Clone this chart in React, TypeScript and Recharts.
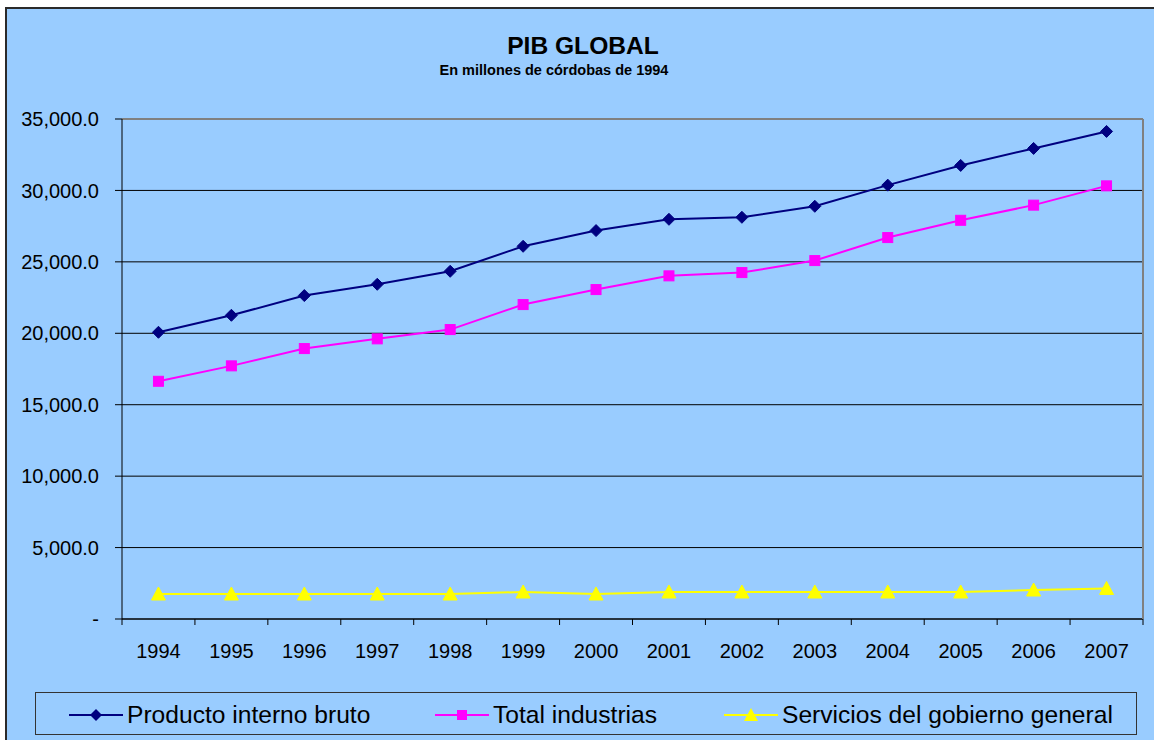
import React from 'react';
import { LineChart, Line, XAxis, YAxis, CartesianGrid, ReferenceLine } from 'recharts';

const years = ['1994', '1995', '1996', '1997', '1998', '1999', '2000', '2001', '2002', '2003', '2004', '2005', '2006', '2007'];
const pib = [20070, 21260, 22640, 23430, 24340, 26090, 27190, 27980, 28120, 28890, 30370, 31750, 32940, 34130];
const industrias = [16640, 17720, 18930, 19610, 20260, 22010, 23060, 24020, 24250, 25090, 26700, 27910, 28970, 30320];
const gobierno = [1750, 1750, 1750, 1750, 1750, 1890, 1750, 1890, 1890, 1890, 1890, 1890, 2030, 2140];
const yTicks = [0, 5000, 10000, 15000, 20000, 25000, 30000, 35000];

const seriesNames = ['Producto interno bruto', 'Total industrias', 'Servicios del gobierno general'];
const title = 'PIB GLOBAL';
const subtitle = 'En millones de córdobas de 1994';

const data = years.map((y, i) => ({ year: y, pib: pib[i], ind: industrias[i], gob: gobierno[i] }));

const FONT = '"Liberation Sans", Arial, sans-serif';
const NAVY = '#000080';
const MAGENTA = '#FF00FF';
const YELLOW = '#FFFF00';

const Diamond = (props: any) => {
  const { cx, cy } = props;
  if (cx == null || cy == null) return null;
  const r = 6;
  return <polygon points={`${cx},${cy - r} ${cx + r},${cy} ${cx},${cy + r} ${cx - r},${cy}`} fill={NAVY} stroke={NAVY} strokeWidth={1} />;
};
const Square = (props: any) => {
  const { cx, cy } = props;
  if (cx == null || cy == null) return null;
  return <rect x={cx - 5} y={cy - 5} width={10} height={10} fill={MAGENTA} stroke={MAGENTA} strokeWidth={1} />;
};
const Triangle = (props: any) => {
  const { cx, cy } = props;
  if (cx == null || cy == null) return null;
  return <polygon points={`${cx},${cy - 7} ${cx + 7},${cy + 6} ${cx - 7},${cy + 6}`} fill={YELLOW} stroke={YELLOW} strokeWidth={1} />;
};

const XTick = (props: any) => {
  const { x, y, payload, index } = props;
  const off = payload && payload.offset ? payload.offset : 36.46;
  const last = index === years.length - 1;
  return (
    <g>
      <line x1={x - off} x2={x - off} y1={y - 6} y2={y} stroke="#000" strokeWidth={1} />
      {last && <line x1={x + off} x2={x + off} y1={y - 6} y2={y} stroke="#000" strokeWidth={1} />}
      <text x={x} y={y + 33} textAnchor="middle" fontFamily={FONT} fontSize={20} fill="#000">
        {payload.value}
      </text>
    </g>
  );
};

const fmtY = (v: number) =>
  v === 0 ? '-' : v.toLocaleString('en-US', { minimumFractionDigits: 1, maximumFractionDigits: 1 });

const LegendItem = ({ left, name, marker, color }: { left: number; name: string; marker: string; color: string }) => (
  <div style={{ position: 'absolute', left, top: 0, height: 43, display: 'flex', alignItems: 'center' }}>
    <svg width={56} height={20} style={{ display: 'block' }}>
      <line x1={0} x2={54} y1={10} y2={10} stroke={color} strokeWidth={2} />
      {marker === 'diamond' && <polygon points="27,4 33,10 27,16 21,10" fill={color} />}
      {marker === 'square' && <rect x={22} y={5} width={10} height={10} fill={color} />}
      {marker === 'triangle' && <polygon points="27,3 34,16 20,16" fill={color} />}
    </svg>
    <span style={{ fontFamily: FONT, fontSize: 24.6, color: '#000', whiteSpace: 'nowrap', marginLeft: 2 }}>{name}</span>
  </div>
);

export default function App() {
  return (
    <div style={{ position: 'absolute', left: 0, top: 0, width: 1154, height: 740, background: '#fff', overflow: 'hidden' }}>
      <div
        style={{
          position: 'absolute',
          left: 5,
          top: 7,
          width: 1160,
          height: 740,
          background: '#99CCFF',
          borderTop: '2px solid #2a2a2a',
          borderLeft: '2px solid #2a2a2a',
        }}
      />
      <svg width={1154} height={100} style={{ position: 'absolute', left: 0, top: 0 }}>
        <text x={583} y={54} textAnchor="middle" fontFamily={FONT} fontSize={24.6} fontWeight="bold" fill="#000">
          {title}
        </text>
        <text x={554} y={75} textAnchor="middle" fontFamily={FONT} fontSize={14.5} fontWeight="bold" fill="#000">
          {subtitle}
        </text>
      </svg>
      <div style={{ position: 'absolute', left: 0, top: 0 }}>
        <LineChart width={1154} height={740} data={data} margin={{ top: 119, right: 10, bottom: 61, left: 0 }}>
          <CartesianGrid vertical={false} stroke="#000" strokeWidth={1} />
          <XAxis
            dataKey="year"
            scale="band"
            height={60}
            axisLine={{ stroke: '#000', strokeWidth: 1 }}
            tickLine={false}
            tickSize={6}
            tickMargin={0}
            interval={0}
            tick={<XTick />}
          />
          <YAxis
            width={122}
            domain={[0, 35000]}
            ticks={yTicks}
            interval={0}
            tickFormatter={fmtY}
            axisLine={{ stroke: '#000', strokeWidth: 1 }}
            tickLine={{ stroke: '#000', strokeWidth: 1 }}
            tickSize={7}
            tickMargin={16}
            tick={{ fontFamily: FONT, fontSize: 20, fill: '#000' }}
          />
          <YAxis
            yAxisId="right"
            orientation="right"
            width={1}
            domain={[0, 35000]}
            tick={false}
            tickLine={false}
            axisLine={{ stroke: '#808080', strokeWidth: 2 }}
          />
          <ReferenceLine y={35000} stroke="#808080" strokeWidth={2} ifOverflow="visible" />
          <Line dataKey="gob" name={seriesNames[2]} stroke={YELLOW} strokeWidth={2} dot={<Triangle />} isAnimationActive={false} />
          <Line dataKey="ind" name={seriesNames[1]} stroke={MAGENTA} strokeWidth={2} dot={<Square />} isAnimationActive={false} />
          <Line dataKey="pib" name={seriesNames[0]} stroke={NAVY} strokeWidth={2} dot={<Diamond />} isAnimationActive={false} />
        </LineChart>
      </div>
      <div
        style={{
          position: 'absolute',
          left: 35,
          top: 692,
          width: 1102,
          height: 43,
          border: '1px solid #333',
          boxSizing: 'border-box',
        }}
      >
        <LegendItem left={33} name={seriesNames[0]} marker="diamond" color={NAVY} />
        <LegendItem left={399} name={seriesNames[1]} marker="square" color={MAGENTA} />
        <LegendItem left={688} name={seriesNames[2]} marker="triangle" color={YELLOW} />
      </div>
    </div>
  );
}
